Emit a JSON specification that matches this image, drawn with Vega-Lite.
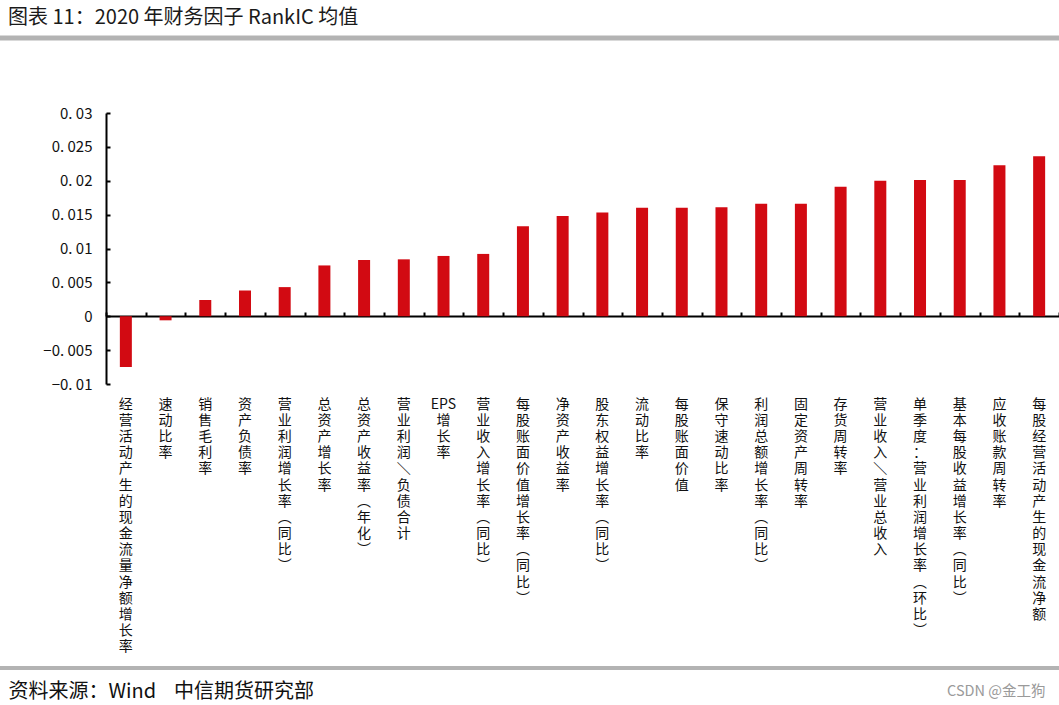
{
  "$schema": "https://vega.github.io/schema/vega-lite/v6.json",
  "autosize": "none",
  "width": 953,
  "height": 271,
  "padding": {"left": 106, "top": 113, "right": 0, "bottom": 321},
  "background": "white",
  "config": {
    "font": "Noto Sans CJK SC",
    "view": {"stroke": null}
  },
  "title": {
    "text": "图表 11：2020 年财务因子 RankIC 均值",
    "anchor": "start",
    "frame": "group",
    "dx": -98,
    "offset": 8,
    "fontSize": 20,
    "fontWeight": "normal",
    "color": "#1a1a1a",
    "font": "Noto Sans CJK SC"
  },
  "data": {
    "values": [
      {"factor": "经营活动产生的现金流量净额增长率", "ic": -0.0075},
      {"factor": "速动比率", "ic": -0.0006},
      {"factor": "销售毛利率", "ic": 0.0024},
      {"factor": "资产负债率", "ic": 0.0038},
      {"factor": "营业利润增长率（同比）", "ic": 0.0043},
      {"factor": "总资产增长率", "ic": 0.0075},
      {"factor": "总资产收益率（年化）", "ic": 0.0083},
      {"factor": "营业利润/负债合计", "ic": 0.0084},
      {"factor": "EPS增长率", "ic": 0.0089},
      {"factor": "营业收入增长率（同比）", "ic": 0.0092},
      {"factor": "每股账面价值增长率（同比）", "ic": 0.0133},
      {"factor": "净资产收益率", "ic": 0.0148},
      {"factor": "股东权益增长率（同比）", "ic": 0.0153},
      {"factor": "流动比率", "ic": 0.016},
      {"factor": "每股账面价值", "ic": 0.016},
      {"factor": "保守速动比率", "ic": 0.0161},
      {"factor": "利润总额增长率（同比）", "ic": 0.0166},
      {"factor": "固定资产周转率", "ic": 0.0166},
      {"factor": "存货周转率", "ic": 0.0191},
      {"factor": "营业收入/营业总收入", "ic": 0.02},
      {"factor": "单季度：营业利润增长率（环比）", "ic": 0.0201},
      {"factor": "基本每股收益增长率（同比）", "ic": 0.0201},
      {"factor": "应收账款周转率", "ic": 0.0223},
      {"factor": "每股经营活动产生的现金流净额", "ic": 0.0236}
    ]
  },
  "layer": [
    {
      "mark": {"type": "bar", "opacity": 0},
      "encoding": {
        "x": {
          "field": "factor",
          "type": "nominal",
          "sort": null,
          "scale": {"paddingInner": 0, "paddingOuter": 0},
          "axis": {
            "orient": "top",
            "offset": -203,
            "labels": false,
            "title": null,
            "domain": true,
            "domainColor": "#000000",
            "domainWidth": 2,
            "ticks": true,
            "tickBand": "extent",
            "tickColor": "#000000",
            "tickWidth": 2,
            "tickSize": 4
          }
        },
        "y": {
          "field": "ic",
          "type": "quantitative",
          "scale": {"domain": [-0.01, 0.03], "nice": false, "zero": false},
          "axis": {
            "values": [-0.01, -0.005, 0, 0.005, 0.01, 0.015, 0.02, 0.025, 0.03],
            "labelExpr": "datum.value == 0 ? '0' : replace(format(datum.value, '.3~f'), '.', '. ')",
            "labelFontSize": 15,
            "labelColor": "#111111",
            "labelPadding": 18,
            "grid": false,
            "domainColor": "#000000",
            "domainWidth": 2,
            "tickColor": "#000000",
            "tickWidth": 2,
            "tickSize": -4,
            "title": "CSDN @金工狗",
            "titleAngle": 0,
            "titleX": 939,
            "titleY": 578,
            "titleAlign": "right",
            "titleBaseline": "middle",
            "titleFontSize": 14.5,
            "titleFontWeight": "normal",
            "titleColor": "#9a9a9a"
          }
        }
      }
    },
    {
      "mark": {"type": "bar", "color": "#d20a12", "size": 12},
      "encoding": {
        "x": {
          "field": "factor",
          "type": "nominal",
          "sort": null,
          "axis": {
            "orient": "bottom",
            "domain": false,
            "ticks": false,
            "labelAngle": 0,
            "labelAlign": "center",
            "labelBaseline": "top",
            "labelPadding": 13,
            "labelFontSize": 14,
            "labelLineHeight": 16.2,
            "labelColor": "#111111",
            "labelLimit": 0,
            "labelOverlap": false,
            "labelExpr": "split(replace(replace(replace(datum.label, '（', '︵'), '）', '︶'), '/', '＼'), regexp('(?<![A-Za-z])|(?![A-Za-z])'))",
            "title": "资料来源：Wind\u00a0\u00a0\u00a0\u00a0中信期货研究部",
            "titleX": -98,
            "titleY": 307,
            "titleAlign": "left",
            "titleBaseline": "middle",
            "titleFontSize": 20,
            "titleFontWeight": "normal",
            "titleColor": "#111111"
          }
        },
        "y": {
          "field": "ic",
          "type": "quantitative",
          "axis": {
            "values": [-0.01, -0.005, 0, 0.005, 0.01, 0.015, 0.02, 0.025, 0.03],
            "labelExpr": "datum.value == 0 ? '0' : replace(format(datum.value, '.3~f'), '.', '. ')",
            "labelFontSize": 15,
            "labelColor": "#111111",
            "labelPadding": 18,
            "grid": false,
            "domainColor": "#000000",
            "domainWidth": 2,
            "tickColor": "#000000",
            "tickWidth": 2,
            "tickSize": -4,
            "title": "CSDN @金工狗",
            "titleAngle": 0,
            "titleX": 939,
            "titleY": 578,
            "titleAlign": "right",
            "titleBaseline": "middle",
            "titleFontSize": 14.5,
            "titleFontWeight": "normal",
            "titleColor": "#9a9a9a"
          }
        }
      }
    },
    {
      "data": {"values": [{"line": "header"}]},
      "mark": {"type": "rule", "color": "#b3b3b3", "strokeWidth": 5},
      "encoding": {
        "x": {"value": -106},
        "x2": {"value": 953},
        "y": {"value": -75}
      }
    },
    {
      "data": {"values": [{"line": "footer"}]},
      "mark": {"type": "rule", "color": "#b3b3b3", "strokeWidth": 4},
      "encoding": {
        "x": {"value": -106},
        "x2": {"value": 953},
        "y": {"value": 555}
      }
    }
  ],
  "resolve": {"axis": {"x": "independent"}}
}
